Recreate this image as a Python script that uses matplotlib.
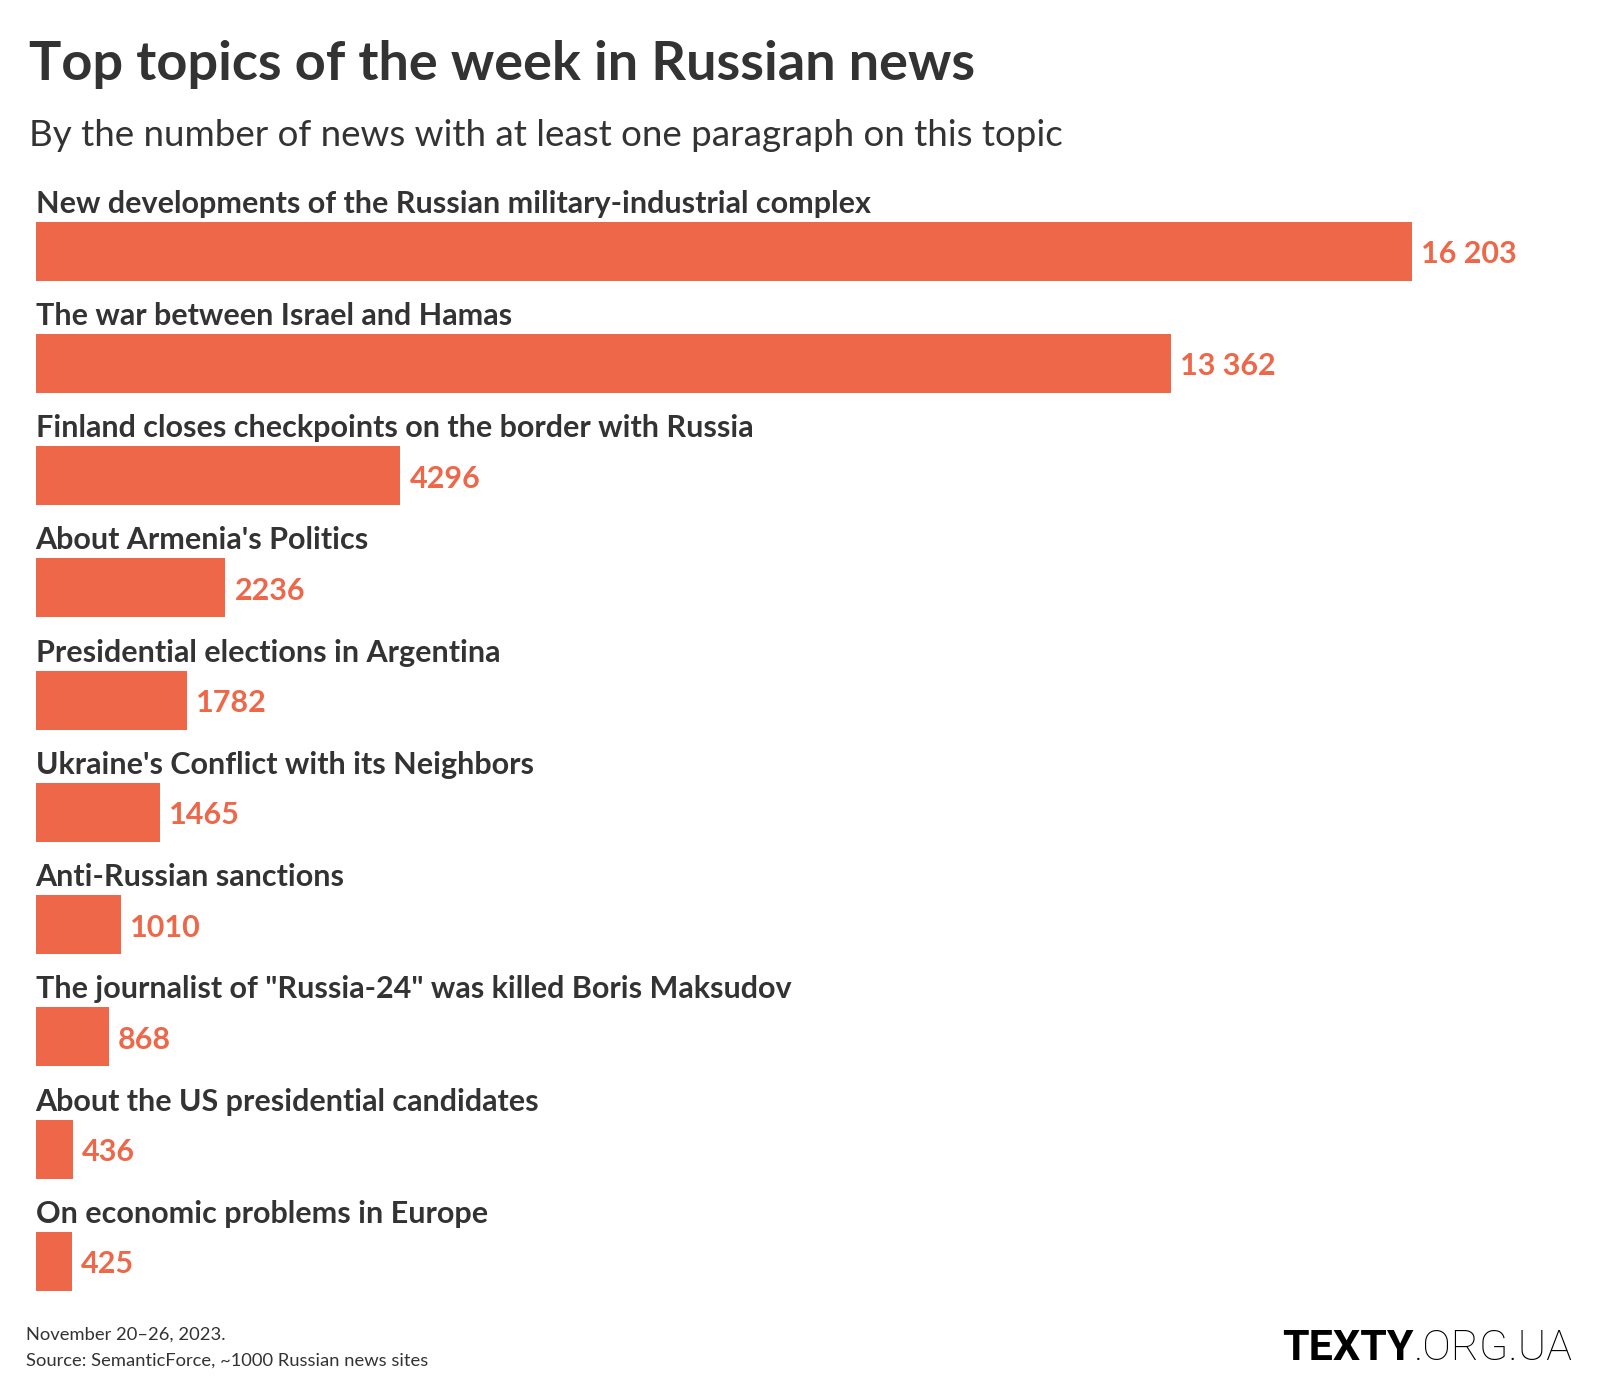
import matplotlib.pyplot as plt

topics = [
    "New developments of the Russian military-industrial complex",
    "The war between Israel and Hamas",
    "Finland closes checkpoints on the border with Russia",
    "About Armenia's Politics",
    "Presidential elections in Argentina",
    "Ukraine's Conflict with its Neighbors",
    "Anti-Russian sanctions",
    "The journalist of \"Russia-24\" was killed Boris Maksudov",
    "About the US presidential candidates",
    "On economic problems in Europe",
]
counts = [16203, 13362, 4296, 2236, 1782, 1465, 1010, 868, 436, 425]
count_labels = ["16 203", "13 362", "4296", "2236", "1782", "1465", "1010", "868", "436", "425"]

W, H = 1600, 1400
BAR = "#ed6748"
DARK = "#333333"
FONT = "Lato"

fig = plt.figure(figsize=(W / 100, H / 100), dpi=100)
fig.patch.set_facecolor("white")

# axes placed in pixel terms
left, right = 35.5, 1412
top, bottom = 194.9, 1317.6
ax = fig.add_axes([left / W, 1 - bottom / H, (right - left) / W, (bottom - top) / H])
ax.set_xlim(0, max(counts))
ax.set_ylim(len(counts) - 0.5, -0.5)
ax.axis("off")

ypos = list(range(len(counts)))
ax.barh(ypos, counts, height=0.526, color=BAR)

for i, (t, v, lab) in enumerate(zip(topics, counts, count_labels)):
    ax.text(0, i - 0.343, t, ha="left", va="baseline", fontsize=22,
            fontweight="bold", color=DARK, family=FONT, clip_on=False)
    ax.annotate(lab, (v, i), xytext=(9, -3), textcoords="offset pixels",
                ha="left", va="center", fontsize=22, fontweight="bold",
                color=BAR, family=FONT, annotation_clip=False)

def ftext(x, y, s, **kw):
    fig.text(x / W, 1 - y / H, s, va="baseline", **kw)

ftext(29, 80, "Top topics of the week in Russian news", fontsize=39,
      fontweight="bold", color=DARK, family=FONT)
ftext(29, 146, "By the number of news with at least one paragraph on this topic",
      fontsize=26.5, color=DARK, family=FONT)
ftext(26, 1340, "November 20\u201326, 2023.", fontsize=13.2, color=DARK, family=FONT)
ftext(26, 1366, "Source: SemanticForce, ~1000 Russian news sites", fontsize=13.2,
      color=DARK, family=FONT)

t1 = fig.text(1282 / W, 1 - 1360 / H, "TEXTY", fontsize=31, fontweight="bold",
              color="black", family="Roboto", va="baseline")
fig.canvas.draw()
bb = t1.get_window_extent()
fig.text(bb.x1 / W, 1 - 1360 / H, ".ORG.UA", fontsize=31, fontweight="light",
         color="black", family="Roboto", va="baseline")

fig.savefig("out.png", dpi=100, facecolor="white")
